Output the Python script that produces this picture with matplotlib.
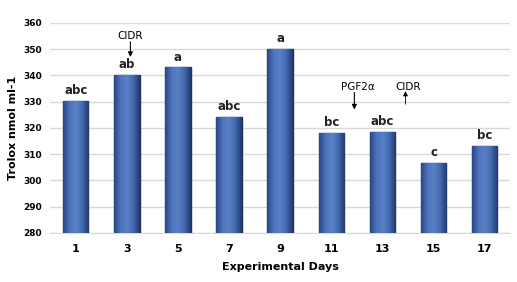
import matplotlib.pyplot as plt
from matplotlib.colors import LinearSegmentedColormap
import numpy as np

days = ["1", "3", "5", "7", "9", "11", "13", "15", "17"]
trolox = [330.3, 340, 343, 324, 350, 318, 318.5, 306.5, 313]
letters = ["abc", "ab", "a", "abc", "a", "bc", "abc", "c", "bc"]

fig = plt.figure(figsize=(5.17, 2.82), dpi=100)
ax = fig.add_axes([0.097, 0.174, 0.89, 0.745])

x = np.arange(len(days))
bars = ax.bar(x, [v - 280 for v in trolox], bottom=280, width=0.5,
              color="#4267b2", edgecolor="#1d3261", linewidth=1.0, zorder=3)

# shaded look for bars
cmap = LinearSegmentedColormap.from_list(
    "bev", ["#2a4684", "#4d74bd", "#5a80c6", "#4369b0", "#23396e"])
grad = np.linspace(0, 1, 64).reshape(1, -1)
for b in bars:
    x0, y0 = b.get_x(), b.get_y()
    im = ax.imshow(grad, cmap=cmap, aspect="auto", zorder=3.5,
                   extent=(x0, x0 + b.get_width(), y0, y0 + b.get_height()))
    im.set_clip_path(b)

for xi, v, lab in zip(x, trolox, letters):
    ax.text(xi, v + 1.5, lab, ha="center", va="bottom",
            fontsize=8.5, fontweight="bold", color="#222222")

ax.set_ylim(280, 360)
ax.set_xlim(-0.5, 8.5)
ax.set_yticks(range(280, 361, 10))
ax.set_xticks(x)
ax.set_xticklabels(days)
ax.grid(axis="y", color="#d9d9d9", linewidth=1, zorder=0)
for s in ["top", "right", "left"]:
    ax.spines[s].set_visible(False)
ax.spines["bottom"].set_color("#d9d9d9")
ax.tick_params(length=0, pad=8)
ax.tick_params(axis="y", labelsize=6.5, pad=6)
ax.tick_params(axis="x", labelsize=8)
for t in ax.get_xticklabels() + ax.get_yticklabels():
    t.set_fontweight("bold")

ax.set_xlabel("Experimental Days", fontsize=8, fontweight="bold", labelpad=6)
ax.set_ylabel("Trolox nmol ml-1", fontsize=8, fontweight="bold", labelpad=4)

arrow = dict(arrowstyle="-|>", color="black", lw=0.8,
             mutation_scale=7, shrinkA=0, shrinkB=0)
ax.text(1.07, 353.2, "CIDR", ha="center", va="bottom", fontsize=7.5)
ax.annotate("", xy=(1.07, 347), xytext=(1.07, 352.8), arrowprops=arrow)
ax.text(5.52, 333.8, "PGF2\u03b1", ha="center", va="bottom", fontsize=7.5)
ax.annotate("", xy=(5.45, 327), xytext=(5.45, 333.5), arrowprops=arrow)
ax.text(6.5, 333.8, "CIDR", ha="center", va="bottom", fontsize=7.5)
ax.annotate("", xy=(6.45, 334), xytext=(6.45, 329),
            arrowprops=dict(arrow, lw=0.6))

fig.savefig("out.png", dpi=100)
